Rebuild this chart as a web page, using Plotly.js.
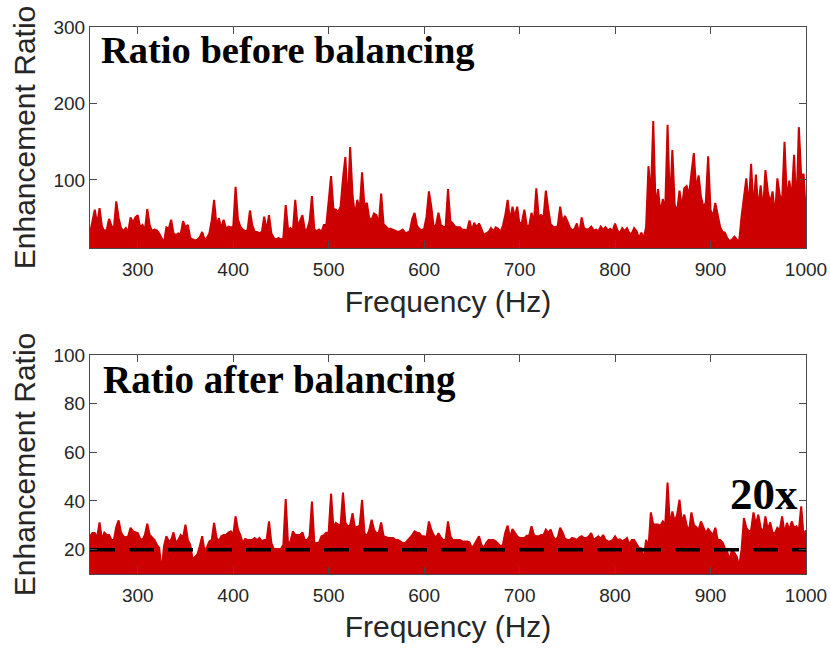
<!DOCTYPE html>
<html>
<head>
<meta charset="utf-8">
<script src="https://cdn.plot.ly/plotly-3.0.1.min.js"></script>
<style>
  html, body { margin: 0; padding: 0; background: #fff; }
  #chart_area { width: 830px; height: 652px; }
</style>
</head>
<body>
<div id="chart_area"></div>
<script>
// frequency axis: one sample every 2.5 Hz from 250 Hz to 1000 Hz
var freqStart = 250;
var freqStep = 2.5;
var freqTicks = [300, 400, 500, 600, 700, 800, 900, 1000];

// enhancement ratio before balancing (one row = 25 Hz)
var ratioBefore = [
    30, 48, 61, 42, 63, 39, 33, 35, 49, 40,        // 250
    36, 72, 50, 37, 33, 37, 32, 51, 44, 51,        // 275
    54, 38, 41, 34, 62, 41, 33, 35, 34, 30,        // 300
    24, 18, 38, 36, 48, 30, 28, 30, 29, 46,        // 325
    38, 41, 24, 22, 21, 22, 25, 32, 22, 24,        // 350
    30, 47, 74, 40, 50, 37, 48, 36, 39, 38,        // 375
    38, 91, 48, 39, 35, 33, 34, 60, 41, 32,        // 400
    32, 30, 32, 52, 34, 54, 30, 24, 22, 24,        // 425
    22, 24, 67, 35, 37, 33, 74, 39, 47, 54,        // 450
    35, 35, 46, 79, 35, 33, 35, 32, 41, 41,        // 475
    72, 105, 62, 61, 58, 65, 102, 130, 67, 143,    // 500
    80, 54, 74, 61, 110, 65, 70, 50, 48, 56,       // 525
    54, 43, 82, 42, 39, 36, 36, 35, 34, 32,        // 550
    33, 35, 31, 31, 33, 49, 57, 40, 36, 34,        // 575
    36, 52, 85, 65, 38, 41, 57, 41, 39, 38,        // 600
    88, 46, 43, 39, 38, 38, 35, 35, 34, 47,        // 625
    34, 44, 38, 43, 36, 28, 30, 32, 37, 33,        // 650
    38, 36, 32, 40, 54, 74, 46, 65, 52, 65,        // 675
    41, 45, 61, 40, 40, 57, 45, 89, 52, 54,        // 700
    50, 86, 62, 42, 39, 38, 40, 65, 45, 53,        // 725
    46, 38, 34, 36, 43, 30, 51, 37, 35, 36,        // 750
    39, 34, 35, 33, 39, 35, 38, 34, 36, 33,        // 775
    43, 34, 30, 37, 33, 37, 30, 30, 37, 33,        // 800
    24, 31, 24, 38, 118, 78, 177, 62, 88, 57,      // 825
    75, 60, 172, 65, 139, 67, 59, 86, 64, 89,      // 850
    92, 80, 109, 135, 87, 106, 78, 65, 70, 131,    // 875
    61, 52, 70, 53, 39, 32, 31, 24, 20, 22,        // 900
    26, 22, 20, 52, 76, 102, 65, 121, 61, 107,     // 925
    61, 93, 60, 113, 85, 70, 85, 52, 102, 80,      // 950
    72, 150, 74, 99, 76, 133, 61, 169, 104, 108,   // 975
    52                                             // 1000
];

// enhancement ratio after balancing
var ratioAfter = [
    25.5, 26.8, 26.8, 25, 31.2, 24, 27, 26, 26, 24,            // 250
    24, 29.3, 32, 27, 25.5, 25, 25.5, 29, 27.5, 27,            // 275
    26.8, 24.5, 24, 26, 30.7, 26, 25, 24, 22, 20.7,            // 300
    11, 21.4, 25.5, 23.4, 24, 27.1, 22.7, 24, 26, 25,          // 325
    30.3, 24, 22, 16, 17, 18, 21.4, 25.5, 19.3, 21,            // 350
    23.4, 24, 31, 25, 23.4, 25.5, 26, 26, 27, 27.5,            // 375
    26, 33.7, 28.2, 26, 22.7, 24.4, 24, 24, 24, 24.8,          // 400
    24, 24.8, 23.4, 24, 24, 31.6, 22.7, 20.3, 20.3, 20.3,      // 425
    20.3, 22, 40.8, 22, 23.4, 27.5, 26, 26, 26, 27.1,          // 450
    24, 24, 25.5, 39.8, 22.7, 22.7, 23, 25.5, 26, 27,          // 475
    27.1, 43, 29, 31, 30.3, 30, 43.5, 31, 29.6, 30,            // 500
    35, 29, 29.3, 30, 40.5, 26.8, 25.5, 28, 32.3, 28.2,        // 525
    26.8, 27, 31.2, 25.5, 25, 24.8, 24.8, 24.8, 24, 24,        // 550
    23.4, 22.7, 22.7, 24, 24.8, 26, 27.5, 27, 26.8, 25.5,      // 575
    25.5, 25, 31.6, 28.2, 26, 24.8, 26.8, 25, 24, 24,          // 600
    31.6, 25.5, 24, 24, 24, 24, 23.4, 23.4, 23.4, 23,          // 625
    20.7, 22, 24, 25.5, 22, 20.7, 22.7, 24, 24, 24,            // 650
    23.4, 22.5, 21.4, 22, 27.1, 29.9, 24.8, 28.5, 26.8, 25.5,  // 675
    24.8, 24.8, 24.8, 25.7, 25.7, 29.6, 26, 25.5, 25.5, 26,    // 700
    26, 28.2, 27, 28.2, 25.5, 24, 25, 29, 27.1, 24.5,          // 725
    24, 24, 24.8, 24.5, 24, 25, 25.5, 24.8, 24.8, 25.5,        // 750
    26.8, 24, 24.8, 25.5, 24.5, 26, 24, 23.4, 23.4, 24,        // 775
    25.5, 24, 24.2, 23.4, 24, 24.8, 22, 24, 24, 22,            // 800
    20.7, 20.5, 16, 24, 21, 35.3, 30.3, 30.3, 30.3, 29.8,      // 825
    31.6, 30, 47.6, 29.6, 35.7, 31.6, 34.4, 40.5, 31, 34.4,    // 850
    30, 27.5, 35.3, 30.3, 29, 28.2, 31.6, 29, 26.8, 28.5,      // 875
    27, 26, 29, 24, 24, 23, 20.7, 19, 16, 20,                  // 900
    18.7, 17, 13.2, 20, 33, 29, 27.5, 28, 35.3, 30.3,          // 925
    34.4, 29, 27, 33.7, 28.2, 31.2, 27, 26.8, 29, 28,          // 950
    33.7, 26.8, 31, 28, 31.6, 29, 29.6, 28, 37.8, 25.5,        // 975
    28                                                         // 1000
];

var targetRatio = 20;       // the "20x" level
var targetFreqs = [250, 1000];

var beforeTicks = [100, 200, 300];
var afterTicks = [20, 40, 60, 80, 100];

var red = '#CC0000';
var axisGray = '#4a4a4a';
var textGray = '#262626';

var data = [
    {
        type: 'scatter',
        mode: 'lines',
        x0: freqStart,
        dx: freqStep,
        y: ratioBefore,
        fill: 'tozeroy',
        fillcolor: red,
        line: { color: red, width: 2 },
        xaxis: 'x',
        yaxis: 'y',
        hoverinfo: 'none'
    },
    {
        type: 'scatter',
        mode: 'lines',
        x0: freqStart,
        dx: freqStep,
        y: ratioAfter,
        fill: 'tozeroy',
        fillcolor: red,
        line: { color: red, width: 2 },
        xaxis: 'x2',
        yaxis: 'y2',
        hoverinfo: 'none'
    },
    {
        type: 'scatter',
        mode: 'lines',
        x: targetFreqs,
        y: [targetRatio, targetRatio],
        line: { color: '#000000', width: 3.5, dash: '25px,14px' },
        xaxis: 'x2',
        yaxis: 'y2',
        hoverinfo: 'none'
    }
];

// shared axis look (MATLAB style box with inside ticks)
function axisStyle(extra) {
    var base = {
        showline: true,
        linecolor: axisGray,
        linewidth: 1,
        mirror: 'ticks',
        ticks: 'inside',
        ticklen: 7,
        tickwidth: 1,
        tickcolor: axisGray,
        showgrid: false,
        zeroline: false,
        tickfont: { family: 'Liberation Sans, Arial, sans-serif', size: 19, color: textGray }
    };
    for (var k in extra) base[k] = extra[k];
    return base;
}

var titleFont = { family: 'Liberation Sans, Arial, sans-serif', size: 30, color: textGray };

var layout = {
    width: 830,
    height: 652,
    margin: { l: 90, r: 24, t: 27, b: 78 },
    paper_bgcolor: '#ffffff',
    plot_bgcolor: '#ffffff',
    showlegend: false,
    xaxis: axisStyle({
        domain: [0, 1], anchor: 'y', range: [250, 1000], tickvals: freqTicks,
        ticklabelstandoff: 4,
        title: { text: 'Frequency (Hz)', font: titleFont, standoff: 12 }
    }),
    yaxis: axisStyle({
        domain: [0.596, 1], anchor: 'x', range: [11, 300], tickvals: beforeTicks,
        title: { text: 'Enhancement Ratio', font: titleFont, standoff: 8 }
    }),
    xaxis2: axisStyle({
        domain: [0, 1], anchor: 'y2', range: [250, 1000], tickvals: freqTicks,
        ticklabelstandoff: 4,
        title: { text: 'Frequency (Hz)', font: titleFont, standoff: 11 }
    }),
    yaxis2: axisStyle({
        domain: [0, 0.4004], anchor: 'x2', range: [10, 100], tickvals: afterTicks,
        title: { text: 'Enhancement Ratio', font: titleFont, standoff: 8 }
    }),
    annotations: [
        {
            text: '<b>Ratio before balancing</b>',
            xref: 'x domain', yref: 'y domain', x: 0.012, y: 0.895,
            xanchor: 'left', yanchor: 'middle', showarrow: false,
            font: { family: 'Liberation Serif, Times New Roman, serif', size: 38.5, color: '#000000' }
        },
        {
            text: '<b>Ratio after balancing</b>',
            xref: 'x2 domain', yref: 'y2 domain', x: 0.016, y: 0.884,
            xanchor: 'left', yanchor: 'middle', showarrow: false,
            font: { family: 'Liberation Serif, Times New Roman, serif', size: 39, color: '#000000' }
        },
        {
            text: '<b>20x</b>',
            xref: 'x2 domain', yref: 'y2 domain', x: 0.991, y: 0.365,
            xanchor: 'right', yanchor: 'middle', showarrow: false,
            font: { family: 'Liberation Serif, Times New Roman, serif', size: 45, color: '#000000' }
        }
    ]
};

var config = {
    displayModeBar: false,
    staticPlot: true
};

Plotly.newPlot('chart_area', data, layout, config);
</script>
</body>
</html>
